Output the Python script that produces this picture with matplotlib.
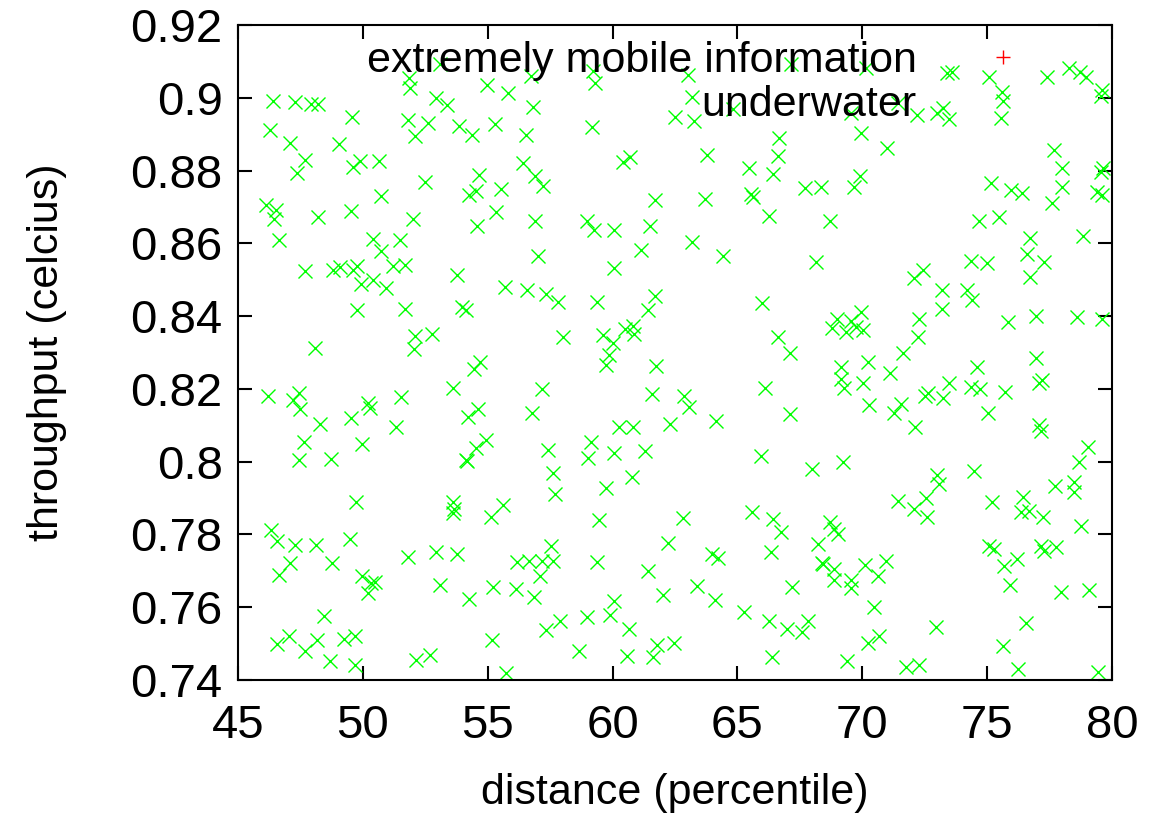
import matplotlib
matplotlib.use('Agg')
import matplotlib.pyplot as plt

plt.rcParams['font.family'] = ['Liberation Sans', 'DejaVu Sans']

# series, region by region
underwater_x = [
    53.10, 51.84, 51.89, 46.40, 47.27, 47.94, 48.20, 52.94, 53.38, 53.84, 49.58, 51.81, 52.62, 52.10, 46.30, 47.10, 49.05,
    47.67, 47.35, 49.61, 49.87, 50.65, 52.48, 50.74, 46.13, 46.54, 46.43, 48.20, 49.54, 52.01, 46.66, 50.39, 51.49,
    56.73, 59.23, 59.30, 54.96, 55.83, 56.83, 62.50, 54.36, 55.29, 56.53, 59.16, 56.43, 56.89, 57.23, 54.66, 54.26,
    54.53, 55.52, 60.43, 60.70, 61.70, 55.32, 54.56, 56.89, 58.99, 59.26, 60.06, 61.50,
    63.03, 63.17, 63.27, 64.81, 67.13, 70.15, 69.54, 69.94, 71.00, 66.68, 66.64, 63.80, 65.46, 66.44, 67.71, 68.33,
    69.91, 69.67, 65.54, 65.64, 63.70, 66.26, 68.72, 63.19,
    73.38, 73.58, 75.09, 77.38, 78.28, 78.72, 78.96, 75.58, 79.59, 79.55, 71.45, 72.20, 72.98, 73.25, 73.49, 75.54,
    77.69, 77.99, 79.55, 79.65, 75.15, 75.94, 76.41, 78.01, 79.41, 79.59, 77.59, 74.69, 75.48, 76.72, 78.85,
    50.74, 47.67, 48.81, 49.07, 49.61, 49.78, 51.21, 51.70, 53.75, 49.94, 50.41, 50.94, 49.77, 51.70, 52.10, 52.77,
    52.05, 48.10, 53.61, 46.20, 47.44, 47.20, 47.47, 50.21, 50.27, 51.54, 48.27, 49.54, 51.34, 47.64, 49.98, 47.44, 48.74,
    57.00, 61.13, 60.07, 55.69, 56.59, 57.33, 57.80, 59.36, 61.70, 61.41, 53.96, 54.12, 58.03, 59.60, 60.03, 60.50,
    60.81, 60.87, 59.86, 59.72, 54.69, 54.45, 61.73, 57.16, 61.57, 54.62, 54.22, 56.79, 60.27, 60.83, 62.30, 54.93,
    54.53, 57.43, 59.14, 60.07, 61.30, 59.03, 54.12, 54.18,
    64.44, 68.15, 66.00, 69.00, 69.55, 69.95, 68.80, 69.34, 69.75, 70.04, 66.61, 67.11, 69.14, 70.22, 71.11, 69.14,
    69.28, 70.04, 66.10, 62.87, 63.07, 64.13, 67.11, 70.27, 71.25, 65.93, 69.24,
    76.61, 77.28, 76.72, 74.34, 75.01, 72.44, 72.07, 73.21, 74.18, 74.41, 73.21, 72.28, 75.82, 76.94, 78.59, 79.59,
    72.24, 71.64, 76.96, 74.61, 73.49, 74.35, 74.71, 75.72, 77.08, 77.18, 72.65, 72.51, 73.22, 71.55, 75.02, 72.11,
    77.09, 77.14, 79.03, 78.69,
    49.74, 53.61, 53.65, 53.61, 46.34, 46.56, 47.30, 48.14, 49.47, 47.07, 46.63, 48.78, 49.98, 50.47, 50.34, 50.21,
    51.81, 52.92, 53.77, 53.10, 48.44, 46.56, 47.03, 47.70, 48.16, 49.25, 49.70, 48.70, 49.70, 52.14, 52.68,
    57.63, 60.79, 59.72, 57.70, 55.63, 55.13, 59.47, 57.52, 56.19, 56.65, 57.16, 57.60, 57.09, 59.39, 61.41, 62.21,
    55.20, 56.13, 56.85, 54.26, 62.00, 60.07, 59.90, 58.99, 57.90, 57.32, 60.66, 55.16, 58.66, 60.57, 61.61, 61.79,
    62.46, 55.72,
    68.00, 71.42, 62.83, 65.57, 66.41, 66.75, 68.71, 68.88, 69.02, 68.21, 66.33, 64.00, 64.24, 68.37, 68.44, 68.88,
    68.88, 69.55, 69.55, 70.11, 70.95, 70.64, 63.39, 64.10, 67.20, 70.48, 65.28, 66.27, 67.00, 67.57, 67.84, 70.24,
    70.67, 66.40, 69.38,
    74.47, 73.01, 73.07, 77.72, 78.49, 78.49, 72.55, 72.07, 72.58, 75.21, 76.45, 76.34, 76.69, 77.25, 78.75, 75.08,
    75.28, 77.14, 77.28, 77.75, 76.21, 75.68, 75.92, 77.95, 79.09, 76.54, 72.94, 75.62, 71.75, 72.27, 76.25, 79.45,
]
underwater_y = [
    0.9092, 0.9054, 0.9028, 0.8990, 0.8988, 0.8982, 0.8983, 0.8999, 0.8980, 0.8923, 0.8947, 0.8939, 0.8930, 0.8895, 0.8912, 0.8875, 0.8873,
    0.8829, 0.8793, 0.8811, 0.8825, 0.8827, 0.8768, 0.8730, 0.8706, 0.8692, 0.8667, 0.8672, 0.8689, 0.8666, 0.8610, 0.8612, 0.8610,
    0.9060, 0.9074, 0.9040, 0.9034, 0.9014, 0.8976, 0.8947, 0.8898, 0.8927, 0.8897, 0.8921, 0.8820, 0.8785, 0.8758, 0.8788, 0.8733,
    0.8745, 0.8750, 0.8823, 0.8838, 0.8718, 0.8685, 0.8649, 0.8660, 0.8660, 0.8637, 0.8637, 0.8649,
    0.9063, 0.9001, 0.8935, 0.8969, 0.9092, 0.9083, 0.8958, 0.8903, 0.8862, 0.8890, 0.8840, 0.8843, 0.8806, 0.8791, 0.8753, 0.8754,
    0.8785, 0.8754, 0.8736, 0.8728, 0.8722, 0.8674, 0.8662, 0.8603,
    0.9069, 0.9072, 0.9056, 0.9056, 0.9081, 0.9070, 0.9058, 0.9017, 0.9022, 0.9005, 0.8985, 0.8953, 0.8958, 0.8973, 0.8941, 0.8944,
    0.8857, 0.8806, 0.8797, 0.8806, 0.8765, 0.8747, 0.8738, 0.8756, 0.8740, 0.8733, 0.8710, 0.8662, 0.8672, 0.8616, 0.8620,
    0.8580, 0.8525, 0.8527, 0.8536, 0.8528, 0.8538, 0.8538, 0.8540, 0.8513, 0.8487, 0.8499, 0.8478, 0.8417, 0.8419, 0.8345, 0.8350,
    0.8309, 0.8311, 0.8203, 0.8181, 0.8188, 0.8169, 0.8144, 0.8162, 0.8148, 0.8177, 0.8103, 0.8119, 0.8094, 0.8055, 0.8048, 0.8004, 0.8006,
    0.8566, 0.8582, 0.8531, 0.8481, 0.8472, 0.8460, 0.8440, 0.8438, 0.8455, 0.8417, 0.8424, 0.8418, 0.8342, 0.8348, 0.8327, 0.8364,
    0.8373, 0.8350, 0.8293, 0.8267, 0.8275, 0.8256, 0.8264, 0.8199, 0.8186, 0.8146, 0.8122, 0.8133, 0.8096, 0.8094, 0.8103, 0.8059,
    0.8038, 0.8032, 0.8053, 0.8025, 0.8030, 0.8009, 0.8004, 0.8002,
    0.8565, 0.8548, 0.8435, 0.8391, 0.8386, 0.8412, 0.8366, 0.8355, 0.8369, 0.8362, 0.8343, 0.8299, 0.8259, 0.8273, 0.8243, 0.8226,
    0.8203, 0.8217, 0.8203, 0.8180, 0.8149, 0.8113, 0.8131, 0.8157, 0.8135, 0.8015, 0.7998,
    0.8570, 0.8548, 0.8508, 0.8552, 0.8547, 0.8528, 0.8504, 0.8472, 0.8472, 0.8444, 0.8419, 0.8392, 0.8383, 0.8400, 0.8397, 0.8393,
    0.8342, 0.8299, 0.8284, 0.8259, 0.8217, 0.8206, 0.8200, 0.8192, 0.8217, 0.8224, 0.8189, 0.8180, 0.8176, 0.8158, 0.8135, 0.8094,
    0.8101, 0.8085, 0.8041, 0.8000,
    0.7888, 0.7890, 0.7869, 0.7858, 0.7811, 0.7783, 0.7771, 0.7771, 0.7788, 0.7721, 0.7689, 0.7721, 0.7686, 0.7669, 0.7666, 0.7639,
    0.7739, 0.7753, 0.7746, 0.7660, 0.7577, 0.7499, 0.7521, 0.7480, 0.7509, 0.7512, 0.7522, 0.7453, 0.7442, 0.7455, 0.7469,
    0.7968, 0.7959, 0.7927, 0.7912, 0.7881, 0.7849, 0.7840, 0.7767, 0.7724, 0.7726, 0.7728, 0.7728, 0.7686, 0.7723, 0.7700, 0.7776,
    0.7655, 0.7650, 0.7628, 0.7622, 0.7634, 0.7616, 0.7579, 0.7573, 0.7563, 0.7538, 0.7541, 0.7509, 0.7480, 0.7467, 0.7462, 0.7495,
    0.7501, 0.7419,
    0.7979, 0.7893, 0.7845, 0.7863, 0.7842, 0.7808, 0.7834, 0.7815, 0.7802, 0.7773, 0.7753, 0.7747, 0.7735, 0.7721, 0.7719, 0.7705,
    0.7675, 0.7675, 0.7652, 0.7716, 0.7727, 0.7686, 0.7659, 0.7620, 0.7655, 0.7600, 0.7588, 0.7563, 0.7540, 0.7533, 0.7561, 0.7503,
    0.7521, 0.7463, 0.7453,
    0.7975, 0.7964, 0.7939, 0.7934, 0.7945, 0.7918, 0.7901, 0.7869, 0.7849, 0.7890, 0.7904, 0.7861, 0.7865, 0.7847, 0.7822, 0.7767,
    0.7760, 0.7767, 0.7755, 0.7765, 0.7733, 0.7712, 0.7662, 0.7641, 0.7646, 0.7556, 0.7547, 0.7494, 0.7437, 0.7442, 0.7431, 0.7421,
]
# the first series has no point inside the plotted window
mobile_x = []
mobile_y = []

x_ticks = [45, 50, 55, 60, 65, 70, 75, 80]
y_ticks = [0.74, 0.76, 0.78, 0.8, 0.82, 0.84, 0.86, 0.88, 0.9, 0.92]

fig = plt.figure(figsize=(11.49, 8.15), dpi=100)
ax = fig.add_axes([238/1149, 1-680/815, (1112-238)/1149, (680-25)/815])

ax.plot(mobile_x, mobile_y, linestyle='none', marker='+', color='#ff0000',
        markersize=10, markeredgewidth=1, label='extremely mobile information')
ax.plot(underwater_x, underwater_y, linestyle='none', marker='x', color='#00ff00',
        markersize=10, markeredgewidth=1, label='underwater')

ax.set_xlim(45, 80)
ax.set_ylim(0.74, 0.92)
ax.set_xticks(x_ticks)
ax.set_xticklabels([str(t) for t in x_ticks])
ax.set_yticks(y_ticks)
ax.set_yticklabels(['%g' % t for t in y_ticks])
ax.tick_params(direction='in', length=10, width=1.5, top=True, right=True, labelsize=34)
ax.tick_params(axis='x', pad=17)
ax.tick_params(axis='y', pad=11)
for s in ax.spines.values():
    s.set_linewidth(1.5)

ax.set_xlabel('distance (percentile)', fontsize=31, labelpad=18)
ax.set_ylabel('throughput (celcius)', fontsize=31, labelpad=46)

leg = ax.legend(loc='upper right', bbox_to_anchor=(1046/1149, 1-41/815), bbox_transform=fig.transFigure,
                frameon=False, markerfirst=False, fontsize=31, handlelength=2, handletextpad=1.0,
                borderpad=0, borderaxespad=0, labelspacing=0.1)
for t in leg.get_texts():
    t.set_ha('right')

fig.savefig('out.png', dpi=100)
